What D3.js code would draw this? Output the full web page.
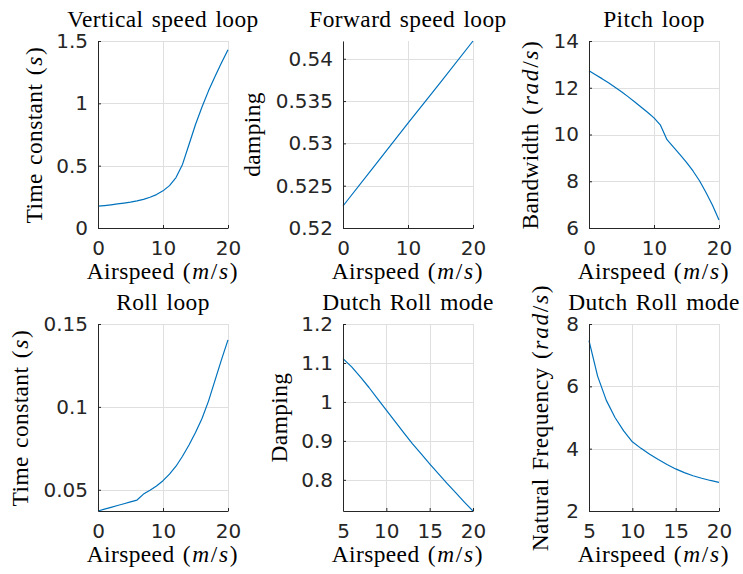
<!DOCTYPE html>
<html>
<head>
<meta charset="utf-8">
<script src="https://cdn.jsdelivr.net/npm/d3@7"></script>
<style>
  html, body { margin: 0; padding: 0; background: #fff; }
  svg { display: block; }
</style>
</head>
<body>
<svg id="fig" width="743" height="574"></svg>
<script>
// Airspeed samples (m/s)
const airspeedLong = [0, 1, 2, 3, 4, 5, 6, 7, 8, 9, 10, 11, 12, 13, 14, 15, 16, 17, 18, 19, 20];
const airspeedForward = [0, 5, 10, 15, 20];
const airspeedLateral = [5, 6, 7, 8, 9, 10, 11, 12, 13, 14, 15, 16, 17, 18, 19, 20];

// Longitudinal loops
const verticalTimeConstant = [0.175, 0.180, 0.186, 0.193, 0.200, 0.208, 0.218, 0.230, 0.247, 0.268,
  0.298, 0.340, 0.405, 0.510, 0.670, 0.830, 0.970, 1.100, 1.215, 1.325, 1.430];
const forwardDamping = [0.5226, 0.5275, 0.5324, 0.5372, 0.5421];
const pitchBandwidth = [12.73, 12.56, 12.39, 12.21, 12.02, 11.83, 11.62, 11.40, 11.18, 10.95,
  10.71, 10.40, 9.78, 9.46, 9.14, 8.81, 8.44, 8.02, 7.52, 6.97, 6.34];

// Lateral loops
const rollTimeConstant = [0.0372, 0.0383, 0.0394, 0.0405, 0.0416, 0.0427, 0.0438, 0.0474, 0.0497, 0.0523,
  0.0555, 0.0594, 0.0642, 0.0702, 0.0770, 0.0845, 0.0930, 0.1035, 0.1160, 0.1285, 0.1404];
const dutchRollDamping = [1.111, 1.090, 1.064, 1.037, 1.008, 0.979, 0.950, 0.921, 0.893, 0.867,
  0.841, 0.816, 0.791, 0.767, 0.743, 0.720];
const dutchRollFrequency = [7.47, 6.32, 5.55, 5.00, 4.57, 4.22, 4.01, 3.82, 3.65, 3.49,
  3.35, 3.23, 3.13, 3.05, 2.98, 2.92];

// Tick values and labels
const xTicksLong = [0, 10, 20];
const xTicksLateral = [5, 10, 15, 20];
const yTicksVertical = [0, 0.5, 1, 1.5];
const yLabelsVertical = ["0", "0.5", "1", "1.5"];
const yTicksForward = [0.52, 0.525, 0.53, 0.535, 0.54];
const yLabelsForward = ["0.52", "0.525", "0.53", "0.535", "0.54"];
const yTicksPitch = [6, 8, 10, 12, 14];
const yTicksRoll = [0.05, 0.1, 0.15];
const yLabelsRoll = ["0.05", "0.1", "0.15"];
const yTicksDamping = [0.8, 0.9, 1, 1.1, 1.2];
const yLabelsDamping = ["0.8", "0.9", "1", "1.1", "1.2"];
const yTicksFrequency = [2, 4, 6, 8];

// Label pieces: [text, kind] with kind "rm" (text), "mr" (math upright), "it" (math italic)
const airspeedLabel = [["Airspeed ", "rm"], ["(", "mr"], ["m", "it"], ["/", "mr"], ["s", "it"], [")", "mr"]];
const timeConstLabel = [["Time constant ", "rm"], ["(", "mr"], ["s", "it"], [")", "mr"]];
const rateLabel = (name) => [[name + " ", "rm"], ["(", "mr"], ["rad", "it"], ["/", "mr"], ["s", "it"], [")", "mr"]];

const cols = [98, 343, 589];
const rows = [41, 324];
const W = 130, H = 187;

const panels = [
  { col: 0, row: 0, title: "Vertical speed loop", ylab: timeConstLabel, ylabX: 41.5,
    x: airspeedLong, y: verticalTimeConstant, xDom: [0, 20], yDom: [0, 1.5],
    xt: xTicksLong, yt: yTicksVertical, ytl: yLabelsVertical },
  { col: 1, row: 0, title: "Forward speed loop", ylab: [["damping", "rm"]], ylabX: 260,
    x: airspeedForward, y: forwardDamping, xDom: [0, 20], yDom: [0.52, 0.5421],
    xt: xTicksLong, yt: yTicksForward, ytl: yLabelsForward },
  { col: 2, row: 0, title: "Pitch loop", ylab: rateLabel("Bandwidth"), ylabX: 538,
    x: airspeedLong, y: pitchBandwidth, xDom: [0, 20], yDom: [6, 14],
    xt: xTicksLong, yt: yTicksPitch, ytl: yTicksPitch.map(String) },
  { col: 0, row: 1, title: "Roll loop", ylab: timeConstLabel, ylabX: 28,
    x: airspeedLong, y: rollTimeConstant, xDom: [0, 20], yDom: [0.0372, 0.15],
    xt: xTicksLong, yt: yTicksRoll, ytl: yLabelsRoll },
  { col: 1, row: 1, title: "Dutch Roll mode", ylab: [["Damping", "rm"]], ylabX: 286.5,
    x: airspeedLateral, y: dutchRollDamping, xDom: [5, 20], yDom: [0.72, 1.2],
    xt: xTicksLateral, yt: yTicksDamping, ytl: yLabelsDamping },
  { col: 2, row: 1, title: "Dutch Roll mode", ylab: rateLabel("Natural Frequency"), ylabX: 548,
    x: airspeedLateral, y: dutchRollFrequency, xDom: [5, 20], yDom: [2, 8],
    xt: xTicksLateral, yt: yTicksFrequency, ytl: yTicksFrequency.map(String) }
];

const svg = d3.select("#fig");
const serif = "'Liberation Serif', 'Times New Roman', serif";
const sans = "'DejaVu Sans', sans-serif";
const stretch = 1.04;
const labelSize = 22.5;

function richText(sel, parts) {
  parts.forEach(([t, kind]) => {
    const ts = sel.append("tspan")
      .attr("font-style", kind === "it" ? "italic" : "normal")
      .text(t);
    if (kind !== "rm") ts.attr("letter-spacing", 1.6);
  });
}

function serifText(transform) {
  return svg.append("text")
    .attr("transform", transform)
    .attr("text-anchor", "middle")
    .attr("font-family", serif)
    .attr("font-size", labelSize)
    .attr("letter-spacing", 0.4)
    .attr("word-spacing", 2)
    .attr("fill", "#000");
}

panels.forEach(p => {
  const left = cols[p.col], top = rows[p.row];
  const g = svg.append("g").attr("transform", `translate(${left},${top})`);
  const x = d3.scaleLinear().domain(p.xDom).range([0, W]);
  const y = d3.scaleLinear().domain(p.yDom).range([H, 0]);

  // grid
  g.append("g").selectAll("line").data(p.xt).join("line")
    .attr("x1", d => Math.round(x(d)) + 0.5).attr("x2", d => Math.round(x(d)) + 0.5)
    .attr("y1", 0).attr("y2", H)
    .attr("stroke", "#dfdfdf").attr("stroke-width", 1);
  g.append("g").selectAll("line").data(p.yt).join("line")
    .attr("y1", d => Math.round(y(d)) + 0.5).attr("y2", d => Math.round(y(d)) + 0.5)
    .attr("x1", 0).attr("x2", W)
    .attr("stroke", "#dfdfdf").attr("stroke-width", 1);

  // data line
  const line = d3.line().x((d, i) => x(p.x[i])).y(d => y(d));
  g.append("path").datum(p.y).attr("d", line)
    .attr("fill", "none").attr("stroke", "#0072BD").attr("stroke-width", 1.2)
    .attr("stroke-linejoin", "round");

  // axes
  const ax = g.append("g").attr("transform", `translate(0,${H})`)
    .call(d3.axisBottom(x).tickValues(p.xt).tickFormat(d3.format("d"))
      .tickSizeInner(-3).tickSizeOuter(0).tickPadding(12.5));
  const ay = g.append("g")
    .call(d3.axisLeft(y).tickValues(p.yt).tickFormat((d, i) => p.ytl[i])
      .tickSizeInner(-3).tickSizeOuter(0).tickPadding(10));
  [ax, ay].forEach(a => {
    a.select(".domain").attr("stroke", "#262626").attr("stroke-width", 1);
    a.selectAll(".tick line").attr("stroke", "#262626");
    a.selectAll(".tick text").attr("fill", "#262626")
      .attr("font-family", sans).attr("font-size", 20);
  });

  // title
  serifText(`translate(${left + W / 2},${top - 14}) scale(${stretch},1)`).text(p.title);

  // x label
  richText(serifText(`translate(${left + W / 2},${top + H + 51}) scale(${stretch},1)`), airspeedLabel);

  // y label
  richText(serifText(`translate(${p.ylabX},${top + H / 2}) rotate(-90) scale(${stretch},1)`), p.ylab);
});
</script>
</body>
</html>
